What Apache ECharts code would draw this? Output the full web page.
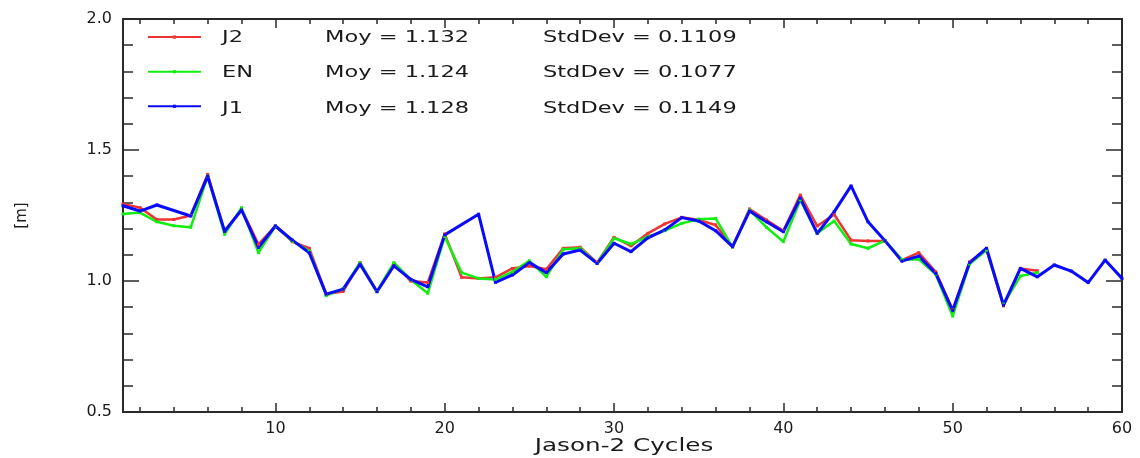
<!DOCTYPE html>
<html>
<head>
<meta charset="utf-8">
<script src="https://cdn.jsdelivr.net/npm/echarts@6/dist/echarts.min.js"></script>
<style>
html,body{margin:0;padding:0;background:#fff;}
#chart{width:1140px;height:458px;}
</style>
</head>
<body>
<div id="chart"></div>
<script>
// ---- data ----
const cycles = Array.from({length: 60}, (_, i) => String(i + 1));

const j2 = [1.294,1.280,1.235,1.235,1.250,1.407,1.188,1.275,1.140,1.210,
            1.150,1.125,0.950,0.960,1.070,0.960,1.065,1.000,0.994,1.180,
            1.014,1.010,1.014,1.048,1.057,1.045,1.125,1.129,1.070,1.167,
            1.134,1.182,1.218,1.243,1.233,1.214,1.131,1.275,1.233,1.192,
            1.328,1.210,1.254,1.156,1.153,1.153,1.080,1.108,1.035,0.890,
            1.073,1.118,0.905,1.048,1.039,null,null,null,null,null];

const en = [1.256,1.261,1.226,1.211,1.205,1.400,1.178,1.280,1.108,1.210,
            1.152,1.115,0.944,0.970,1.070,0.960,1.070,1.005,0.953,1.170,
            1.032,1.010,1.006,1.035,1.077,1.016,1.121,1.125,1.067,1.163,
            1.141,1.169,1.192,1.220,1.236,1.239,1.129,1.271,1.205,1.150,
            1.309,1.182,1.229,1.141,1.125,1.154,1.082,1.083,1.026,0.866,
            1.065,1.118,0.912,1.019,1.032,null,null,null,null,null];

const j1 = [1.287,1.267,1.290,null,1.248,1.400,1.190,1.271,1.128,1.210,
            1.156,1.108,0.950,0.969,1.064,0.959,1.058,1.006,0.978,1.176,
            null,1.255,0.995,1.023,1.070,1.032,1.103,1.118,1.067,1.144,
            1.112,1.165,1.195,1.242,1.229,1.192,1.131,1.267,1.226,1.188,
            1.316,1.182,1.264,1.363,1.226,1.154,1.076,1.095,1.029,0.887,
            1.070,1.125,0.908,1.048,1.016,1.061,1.038,0.994,1.080,1.010];

const seriesNames = ['J2', 'EN', 'J1'];
const moyTexts = ['Moy = 1.132', 'Moy = 1.124', 'Moy = 1.128'];
const stdTexts = ['StdDev = 0.1109', 'StdDev = 0.1077', 'StdDev = 0.1149'];
const xTitle = 'Jason-2 Cycles';
const yTitle = '[m]';

// ---- styling ----
const colors = ['#ee3333', '#11ee11', '#0a0aff'];
const axisColor = '#2a2a2a';
const textColor = '#1a1a1a';
const FONT = 'DejaVu Sans';

const chart = echarts.init(document.getElementById('chart'), null, {renderer: 'canvas'});

function xAxisDef(position, tickLen, tickFn, showLabel) {
  return {
    type: 'category', data: cycles, boundaryGap: false, position: position,
    axisLine: {show: true, onZero: false, lineStyle: {color: axisColor, width: 2}},
    axisTick: {show: true, inside: true, length: tickLen, interval: tickFn,
               lineStyle: {color: axisColor, width: 1.5}},
    axisLabel: {show: showLabel, interval: (i, v) => Number(v) % 10 === 0,
                margin: 9, color: textColor, fontFamily: FONT, fontSize: 16},
    splitLine: {show: false}
  };
}
const minorFn = (i, v) => Number(v) % 2 === 0;
const majorFn = (i, v) => Number(v) % 10 === 0;

function yAxisDef(position, showLabel) {
  return {
    type: 'value', min: 0.5, max: 2.0, interval: 0.5, position: position,
    name: showLabel ? yTitle : '', nameLocation: 'middle', nameGap: 93,
    nameTextStyle: {color: textColor, fontFamily: FONT, fontSize: 15},
    axisLine: {show: true, onZero: false, lineStyle: {color: axisColor, width: 2}},
    axisTick: {show: true, inside: true, length: 16, lineStyle: {color: axisColor, width: 1.5}},
    minorTick: {show: true, splitNumber: 5, length: 10, lineStyle: {color: axisColor, width: 1.5}},
    axisLabel: {show: showLabel, margin: 11, color: textColor, fontFamily: FONT, fontSize: 16,
                formatter: v => v.toFixed(1)},
    splitLine: {show: false}, minorSplitLine: {show: false}
  };
}

const data = [j2, en, j1];
const widths = [2.5, 2.5, 3];

const graphics = [];
const rowY = [38, 73.5, 109];
for (let k = 0; k < 3; k++) {
  graphics.push({type: 'text', x: 222, y: rowY[k], scaleX: 1.5,
    style: {text: seriesNames[k], fill: textColor, font: '15px "' + FONT + '"', textVerticalAlign: 'middle', textAlign: 'left'}});
  graphics.push({type: 'text', x: 325, y: rowY[k], scaleX: 1.5,
    style: {text: moyTexts[k], fill: textColor, font: '15px "' + FONT + '"', textVerticalAlign: 'middle', textAlign: 'left'}});
  graphics.push({type: 'text', x: 543, y: rowY[k], scaleX: 1.5,
    style: {text: stdTexts[k], fill: textColor, font: '15px "' + FONT + '"', textVerticalAlign: 'middle', textAlign: 'left'}});
}
graphics.push({type: 'text', x: 624, y: 447, scaleX: 1.45,
  style: {text: xTitle, fill: textColor, font: '17px "' + FONT + '"', textVerticalAlign: 'middle', textAlign: 'center'}});

chart.setOption({
  backgroundColor: '#fff',
  animation: false,
  grid: {left: 123, right: 18, top: 19, bottom: 46, containLabel: false},
  legend: {
    show: true, orient: 'vertical', left: 147, top: 35.5, padding: 0,
    itemWidth: 53, itemHeight: 4, itemGap: 31.4,
    data: seriesNames,
    formatter: () => '',
    textStyle: {fontSize: 1, lineHeight: 1},
    selectedMode: false
  },
  xAxis: [
    xAxisDef('bottom', 5, minorFn, true),
    xAxisDef('bottom', 9, majorFn, false),
    xAxisDef('top', 5, minorFn, false),
    xAxisDef('top', 9, majorFn, false)
  ],
  yAxis: [yAxisDef('left', true), yAxisDef('right', false)],
  series: seriesNames.map((n, k) => ({
    name: n, type: 'line', data: data[k], xAxisIndex: 0, yAxisIndex: 0,
    connectNulls: k === 2,
    symbol: 'rect', symbolSize: 3, showSymbol: true,
    itemStyle: {color: colors[k]},
    lineStyle: {color: colors[k], width: widths[k]},
    emphasis: {disabled: true}
  })),
  graphic: graphics
});
</script>
</body>
</html>
